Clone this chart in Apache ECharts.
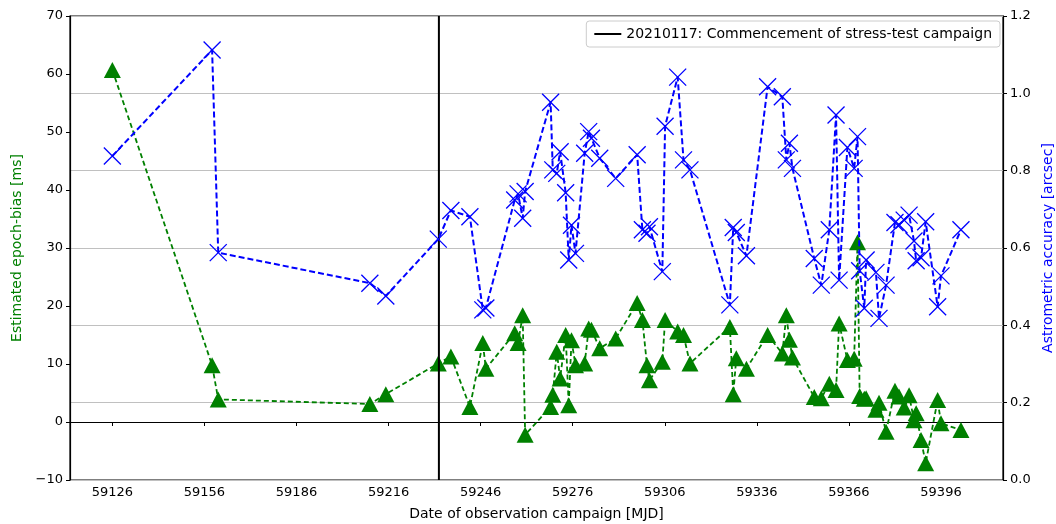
<!DOCTYPE html>
<html>
<head>
<meta charset="utf-8">
<script src="https://cdn.jsdelivr.net/npm/echarts@6/dist/echarts.min.js"></script>
<style>
html,body{margin:0;padding:0;background:#fff;}
#chart{width:1056px;height:524px;}
</style>
</head>
<body>
<div id="chart"></div>
<script>
// Observation campaign dates (MJD)
const mjd = [59126.0, 59158.5, 59160.5, 59209.9, 59215.1, 59232.2, 59236.3, 59242.5, 59246.7, 59247.7,
  59257.1, 59258.2, 59259.7, 59260.5, 59268.8, 59269.5, 59270.8, 59271.9, 59273.7, 59274.7,
  59275.6, 59276.9, 59279.9, 59281.2, 59282.1, 59284.8, 59290.0, 59297.0, 59298.7, 59300.2,
  59301.0, 59305.2, 59306.1, 59310.2, 59312.1, 59314.2, 59327.2, 59328.3, 59329.3, 59332.6,
  59339.5, 59344.3, 59345.6, 59346.6, 59347.6, 59354.7, 59357.0, 59359.6, 59361.8, 59362.8,
  59365.5, 59367.7, 59368.8, 59369.5, 59371.0, 59371.6, 59374.8, 59375.8, 59378.1, 59381.0,
  59382.3, 59384.0, 59385.6, 59387.2, 59387.9, 59389.5, 59391.0, 59394.9, 59396.0, 59402.5];

// Estimated epoch-bias [ms]
const epochBias = [60.7, 9.8, 3.9, 3.1, 4.8, 10.1, 11.3, 2.6, 13.6, 9.2,
  15.3, 13.6, 18.4, -2.2, 2.6, 4.7, 12.1, 7.5, 15.0, 2.9,
  14.1, 9.8, 10.1, 16.1, 15.9, 12.7, 14.4, 20.5, 17.6, 9.8,
  7.2, 10.4, 17.6, 15.6, 15.0, 10.1, 16.4, 4.8, 11.0, 9.2,
  15.0, 11.8, 18.4, 14.2, 11.1, 4.3, 4.1, 6.6, 5.5, 17.0,
  10.7, 10.9, 31.0, 4.5, 4.0, 4.1, 2.1, 3.3, -1.7, 5.4,
  4.4, 2.5, 4.6, 0.3, 1.5, -3.1, -7.1, 3.8, -0.2, -1.4];

// Astrometric accuracy [arcsec]
const accuracy = [0.838, 1.112, 0.588, 0.509, 0.476, 0.623, 0.697, 0.681, 0.440, 0.445,
  0.724, 0.740, 0.677, 0.746, 0.977, 0.802, 0.793, 0.849, 0.743, 0.569,
  0.659, 0.586, 0.845, 0.901, 0.884, 0.832, 0.780, 0.841, 0.647, 0.638,
  0.655, 0.539, 0.915, 1.042, 0.828, 0.802, 0.453, 0.653, 0.640, 0.580,
  1.017, 0.991, 0.828, 0.871, 0.806, 0.573, 0.504, 0.647, 0.944, 0.517,
  0.860, 0.806, 0.888, 0.541, 0.444, 0.569, 0.537, 0.418, 0.504, 0.666,
  0.660, 0.672, 0.685, 0.618, 0.567, 0.575, 0.668, 0.448, 0.528, 0.647];

// Tick labels
const xTicks = [59126, 59156, 59186, 59216, 59246, 59276, 59306, 59336, 59366, 59396];
const campaignStart = 59232.4;
const campaignLabel = '20210117: Commencement of stress-test campaign';

const chart = echarts.init(document.getElementById('chart'), null, {renderer: 'canvas'});
const FONT = 'DejaVu Sans';

const option = {
  animation: false,
  backgroundColor: '#fff',
  textStyle: {fontFamily: FONT},
  grid: {left: 70, right: 53, top: 16, bottom: 44, containLabel: false, outerBoundsMode: 'none',
    show: true, borderColor: '#000', borderWidth: 1.2, backgroundColor: 'transparent'},
  legend: {
    data: [campaignLabel],
    right: 56, top: 21,
    padding: [6, 8, 6, 8],
    backgroundColor: '#fff',
    borderColor: '#cccccc', borderWidth: 1, borderRadius: 3,
    icon: 'rect', itemWidth: 27, itemHeight: 2, itemGap: 8,
    textStyle: {fontFamily: FONT, fontSize: 14, color: '#000'}
  },
  xAxis: {
    type: 'value', min: 59112.2, max: 59416.2,
    name: 'Date of observation campaign [MJD]', nameLocation: 'middle', nameGap: 27,
    nameTextStyle: {fontFamily: FONT, fontSize: 14, color: '#000'},
    axisLine: {show: true, lineStyle: {color: '#000', width: 1.2}},
    axisTick: {show: true, length: 4, lineStyle: {color: '#000'}, customValues: xTicks},
    axisLabel: {color: '#000', fontFamily: FONT, fontSize: 13, margin: 6, customValues: xTicks, formatter: v => String(v)},
    splitLine: {show: false}
  },
  yAxis: [
    {
      type: 'value', position: 'left', min: -10, max: 70, interval: 10,
      name: 'Estimated epoch-bias [ms]', nameLocation: 'middle', nameGap: 44, nameRotate: 90,
      nameTextStyle: {fontFamily: FONT, fontSize: 14, color: 'green'},
      axisLine: {show: true, lineStyle: {color: '#000', width: 1.2}},
      axisTick: {show: true, length: 4, lineStyle: {color: '#000'}},
      axisLabel: {color: '#000', fontFamily: FONT, fontSize: 13, margin: 7, formatter: v => String(v).replace('-', '\u2212')},
      splitLine: {show: false}
    },
    {
      type: 'value', position: 'right', min: 0, max: 1.2, interval: 0.2,
      name: 'Astrometric accuracy [arcsec]', nameLocation: 'middle', nameGap: 36, nameRotate: 90,
      nameTextStyle: {fontFamily: FONT, fontSize: 14, color: 'blue'},
      axisLine: {show: true, lineStyle: {color: '#000', width: 1.2}},
      axisTick: {show: true, length: 4, lineStyle: {color: '#000'}},
      axisLabel: {color: '#000', fontFamily: FONT, fontSize: 13, margin: 7, formatter: v => v.toFixed(1)},
      splitLine: {show: true, lineStyle: {color: '#c0c0c0', width: 1.2}}
    }
  ],
  series: [
    {
      name: 'Epoch-bias', type: 'line', yAxisIndex: 0, z: 3,
      data: mjd.map((d, i) => [d, epochBias[i]]),
      symbol: 'triangle', symbolSize: [17, 16],
      itemStyle: {color: 'green'},
      lineStyle: {color: 'green', width: 1.8, type: [5, 3]},
      emphasis: {disabled: true}
    },
    {
      name: campaignLabel, type: 'line', yAxisIndex: 0, z: 4,
      data: [[campaignStart, -10], [campaignStart, 70]],
      symbol: 'none', color: '#000',
      lineStyle: {color: '#000', width: 2},
      emphasis: {disabled: true}
    },
    {
      name: 'Accuracy', type: 'line', yAxisIndex: 1, z: 5,
      data: mjd.map((d, i) => [d, accuracy[i]]),
      symbol: 'path://M0,0L10,10M10,0L0,10', symbolSize: 17, symbolKeepAspect: true,
      itemStyle: {color: 'rgba(0,0,0,0)', borderColor: 'blue', borderWidth: 1.3},
      lineStyle: {color: 'blue', width: 2, type: [6, 3]},
      emphasis: {disabled: true}
    }
  ]
};
chart.setOption(option);
</script>
</body>
</html>
